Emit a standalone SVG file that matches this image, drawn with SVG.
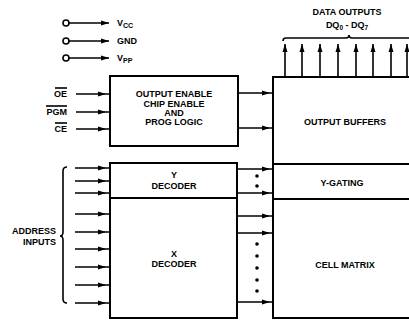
<svg xmlns="http://www.w3.org/2000/svg" width="409" height="320" viewBox="0 0 409 320">
<defs>
<marker id="ar" viewBox="0 0 8 6" refX="8" refY="3" markerWidth="8" markerHeight="6" markerUnits="userSpaceOnUse" orient="auto">
<path d="M0,0.5 L8,3 L0,5.5 Z" fill="#000"/>
</marker>
</defs>
<style>
.box{fill:#fff;stroke:#000;stroke-width:2}
.ln{stroke:#000;stroke-width:1.6;fill:none}
.in{stroke:#000;stroke-width:1.6;fill:none;marker-end:url(#ar)}
.mid{stroke:#000;stroke-width:1.6;fill:none;marker-mid:url(#ar)}
.up{stroke:#000;stroke-width:1.6;fill:none;marker-end:url(#ar)}
.t{font-family:"Liberation Sans",Arial,sans-serif;font-weight:bold;font-size:9px;fill:#000}
.m{text-anchor:middle}
.r{text-anchor:end}
.dot{fill:#000}
</style>
<rect width="409" height="320" fill="#fff"/>

<g id="power">
<circle cx="66" cy="23" r="3" fill="#fff" stroke="#000" stroke-width="1.6"/>
<circle cx="66" cy="41" r="3" fill="#fff" stroke="#000" stroke-width="1.6"/>
<circle cx="66" cy="58" r="3" fill="#fff" stroke="#000" stroke-width="1.6"/>
<text class="t" x="117" y="26">V<tspan font-size="7px" dy="2">CC</tspan></text>
<text class="t" x="117" y="44">GND</text>
<text class="t" x="117" y="61">V<tspan font-size="7px" dy="2">PP</tspan></text>
</g>

<g id="data-outputs">
<text class="t m" x="347" y="15">DATA OUTPUTS</text>
<text class="t m" x="347" y="28">DQ<tspan font-size="6.5px" dy="2">0</tspan><tspan dy="-2"> - DQ</tspan><tspan font-size="6.5px" dy="2">7</tspan></text>
<path class="ln" d="M283,41 q0,-3 3,-3 L346,38 q3,0 3,-3 q0,3 3,3 L409,38" stroke-width="1.3"/>
</g>

<g id="ctrl-labels">
<text class="t r" x="67" y="97">OE</text>
<line class="ln" x1="55" y1="88" x2="67" y2="88" stroke-width="1"/>
<text class="t r" x="67" y="115">PGM</text>
<line class="ln" x1="46" y1="106" x2="67" y2="106" stroke-width="1"/>
<text class="t r" x="67" y="132">CE</text>
<line class="ln" x1="55" y1="123" x2="67" y2="123" stroke-width="1"/>
</g>

<g id="address-label">
<text class="t r" x="56" y="234">ADDRESS</text>
<text class="t r" x="56" y="245">INPUTS</text>
<path class="ln" d="M67,167 q-4,0 -4,4 L63,232 q0,4 -3,4 q3,0 3,4 L63,299 q0,4 4,4" stroke-width="1.2"/>
</g>

<g id="prog-logic">
<rect class="box" x="110" y="76" width="128" height="70"/>
<text class="t m" x="174" y="97">OUTPUT ENABLE</text>
<text class="t m" x="174" y="107">CHIP ENABLE</text>
<text class="t m" x="174" y="116">AND</text>
<text class="t m" x="174" y="125">PROG LOGIC</text>
</g>

<g id="output-buffers">
<path class="box" d="M411,77 L273,77 L273,164 L411,164"/>
<text class="t m" x="345" y="125">OUTPUT BUFFERS</text>
</g>

<g id="y-gating">
<path class="box" d="M411,164 L273,164 L273,199 L411,199"/>
<text class="t m" x="342" y="186">Y-GATING</text>
</g>

<g id="cell-matrix">
<path class="box" d="M411,199 L273,199 L273,318 L411,318"/>
<text class="t m" x="345" y="268">CELL MATRIX</text>
</g>

<g id="y-decoder">
<rect class="box" x="110" y="163" width="127" height="35"/>
<text class="t m" x="174" y="178">Y</text>
<text class="t m" x="174" y="189">DECODER</text>
</g>

<g id="x-decoder">
<rect class="box" x="110" y="198" width="127" height="120"/>
<text class="t m" x="174" y="257">X</text>
<text class="t m" x="174" y="267">DECODER</text>
</g>

<g id="connectors">
<line class="in" x1="68" y1="23" x2="109" y2="23"/>
<line class="in" x1="68" y1="41" x2="109" y2="41"/>
<line class="in" x1="68" y1="58" x2="109" y2="58"/>

<path class="mid" d="M76,94 L106,94 L110,94"/>
<path class="mid" d="M76,112 L106,112 L110,112"/>
<path class="mid" d="M76,129 L106,129 L110,129"/>

<path class="mid" d="M238,93 L270,93 L273,93"/>
<path class="mid" d="M238,128 L270,128 L273,128"/>

<path class="mid" d="M75,168 L106,168 L110,168"/>
<path class="mid" d="M75,181 L106,181 L110,181"/>
<path class="mid" d="M75,193 L106,193 L110,193"/>
<path class="mid" d="M75,214 L106,214 L110,214"/>
<path class="mid" d="M75,232 L106,232 L110,232"/>
<path class="mid" d="M75,249 L106,249 L110,249"/>
<path class="mid" d="M75,267 L106,267 L110,267"/>
<path class="mid" d="M75,285 L106,285 L110,285"/>
<path class="mid" d="M75,303 L106,303 L110,303"/>

<path class="mid" d="M237,169 L270,169 L273,169"/>
<path class="mid" d="M237,193 L270,193 L273,193"/>
<path class="mid" d="M237,216 L270,216 L273,216"/>
<path class="mid" d="M237,233 L270,233 L273,233"/>
<path class="mid" d="M237,302 L270,302 L273,302"/>

<line class="up" x1="285" y1="77" x2="285" y2="44"/>
<line class="up" x1="302" y1="77" x2="302" y2="44"/>
<line class="up" x1="320" y1="77" x2="320" y2="44"/>
<line class="up" x1="338" y1="77" x2="338" y2="44"/>
<line class="up" x1="356" y1="77" x2="356" y2="44"/>
<line class="up" x1="373" y1="77" x2="373" y2="44"/>
<line class="up" x1="391" y1="77" x2="391" y2="44"/>
<line class="up" x1="407" y1="77" x2="407" y2="44"/>

<circle class="dot" cx="257" cy="176" r="1.8"/>
<circle class="dot" cx="257" cy="186" r="1.8"/>
<circle class="dot" cx="257" cy="244" r="1.8"/>
<circle class="dot" cx="257" cy="256" r="1.8"/>
<circle class="dot" cx="257" cy="268" r="1.8"/>
<circle class="dot" cx="257" cy="280" r="1.8"/>
<circle class="dot" cx="257" cy="291" r="1.8"/>
</g>
</svg>
